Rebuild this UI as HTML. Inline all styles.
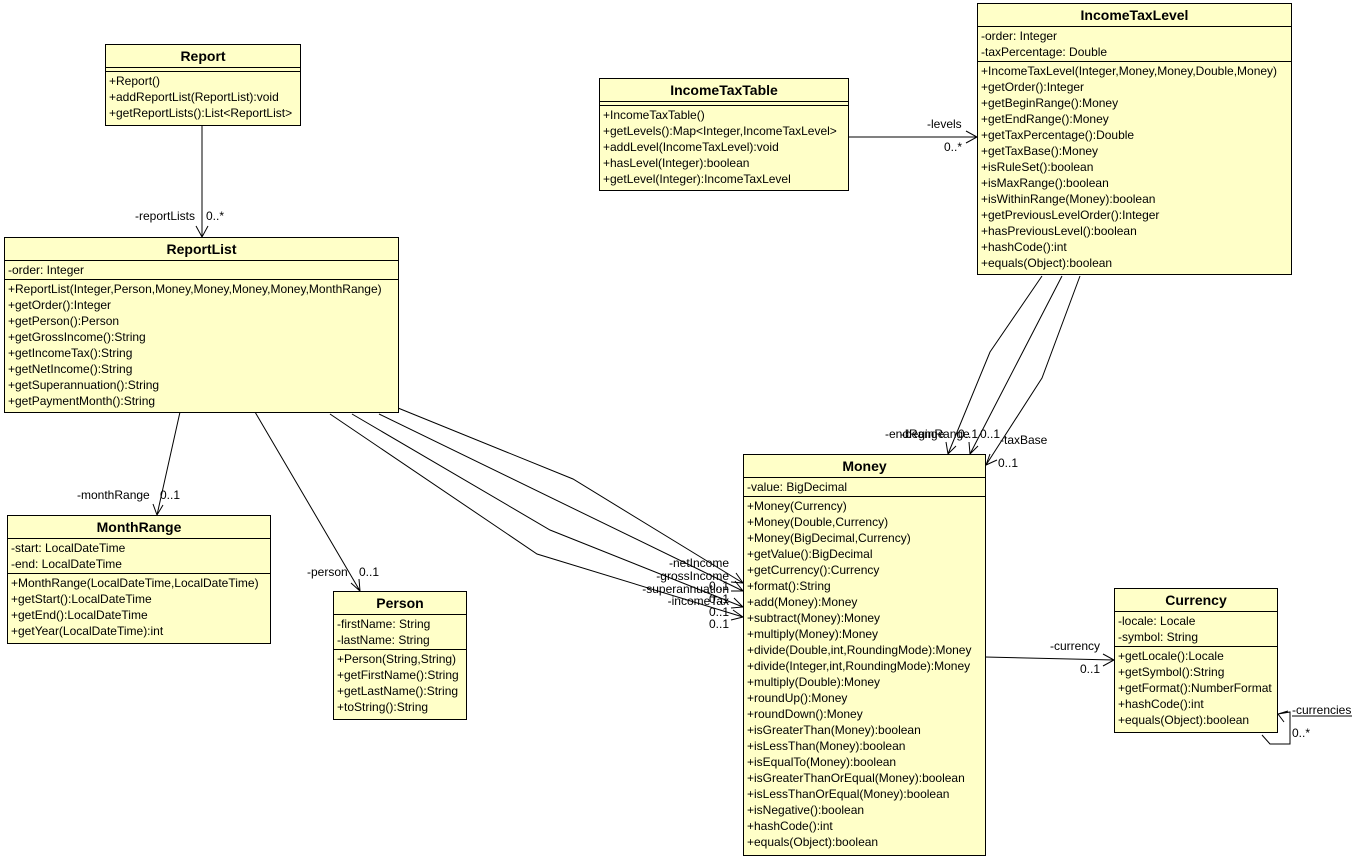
<!DOCTYPE html>
<html><head><meta charset="utf-8"><style>
body{margin:0;width:1355px;height:858px;background:#fff;position:relative;overflow:hidden;font-family:"Liberation Sans",Arial,sans-serif;font-size:12px;color:#000}
.c{position:absolute;background:#ffffc8;border:1px solid #000;box-sizing:border-box}
.t{font-weight:bold;font-size:14px;text-align:center;height:22px;line-height:22px;border-bottom:1px solid #000}
.s{border-bottom:1px solid #000;padding:1px 0 1px 3px;line-height:16px;white-space:nowrap}
.s:last-child{border-bottom:none}
.l{position:absolute;font-size:12px;line-height:14px;white-space:nowrap}
svg{position:absolute;left:0;top:0}
</style></head><body>
<svg width="1355" height="858" fill="none" stroke="#000" stroke-width="1">
<path d="M202 125V237M196 226L202 237L208 226"/>
<path d="M848 137H977M966 131L977 137L966 143"/>
<path d="M180 412L157 515M153 504L157 515L163 505"/>
<path d="M255 412L360 591M351 583L360 591L359 579"/>
<path d="M398 408L573 479L743 583M731 582L743 583L736 573"/>
<path d="M379 414L743 591M731 591L743 591L735 581"/>
<path d="M352 414L550 530L743 607M731 608L743 607L734 598"/>
<path d="M330 414L537 554L743 617M731 620L743 617L733 610"/>
<path d="M1042 276L990 352L948 454M946 442L948 454L956 446"/>
<path d="M1062 276L970 454M969 442L970 454L978 446"/>
<path d="M1080 276L1042 378L986 465M990 454L986 465L997 460"/>
<path d="M985 657L1114 660M1103 654L1114 660L1103 666"/>
<path d="M1262 735L1270 744H1290V712L1278 714M1284 722L1278 714L1288 711"/>
<path d="M1292 716H1352"/>
</svg>

<div class="c" style="left:105px;top:44px;width:196px;height:82px"><div class="t">Report</div><div class="s" style="height:3px;padding:0"></div><div class="s">+Report()<br>+addReportList(ReportList):void<br>+getReportLists():List&lt;ReportList&gt;</div></div>

<div class="c" style="left:4px;top:237px;width:395px;height:176px"><div class="t">ReportList</div><div class="s">-order: Integer</div><div class="s">+ReportList(Integer,Person,Money,Money,Money,Money,MonthRange)<br>+getOrder():Integer<br>+getPerson():Person<br>+getGrossIncome():String<br>+getIncomeTax():String<br>+getNetIncome():String<br>+getSuperannuation():String<br>+getPaymentMonth():String</div></div>

<div class="c" style="left:7px;top:515px;width:264px;height:129px"><div class="t">MonthRange</div><div class="s">-start: LocalDateTime<br>-end: LocalDateTime</div><div class="s">+MonthRange(LocalDateTime,LocalDateTime)<br>+getStart():LocalDateTime<br>+getEnd():LocalDateTime<br>+getYear(LocalDateTime):int</div></div>

<div class="c" style="left:333px;top:591px;width:134px;height:129px"><div class="t">Person</div><div class="s">-firstName: String<br>-lastName: String</div><div class="s">+Person(String,String)<br>+getFirstName():String<br>+getLastName():String<br>+toString():String</div></div>

<div class="c" style="left:599px;top:78px;width:250px;height:113px"><div class="t">IncomeTaxTable</div><div class="s" style="height:3px;padding:0"></div><div class="s">+IncomeTaxTable()<br>+getLevels():Map&lt;Integer,IncomeTaxLevel&gt;<br>+addLevel(IncomeTaxLevel):void<br>+hasLevel(Integer):boolean<br>+getLevel(Integer):IncomeTaxLevel</div></div>

<div class="c" style="left:977px;top:3px;width:315px;height:272px"><div class="t">IncomeTaxLevel</div><div class="s">-order: Integer<br>-taxPercentage: Double</div><div class="s">+IncomeTaxLevel(Integer,Money,Money,Double,Money)<br>+getOrder():Integer<br>+getBeginRange():Money<br>+getEndRange():Money<br>+getTaxPercentage():Double<br>+getTaxBase():Money<br>+isRuleSet():boolean<br>+isMaxRange():boolean<br>+isWithinRange(Money):boolean<br>+getPreviousLevelOrder():Integer<br>+hasPreviousLevel():boolean<br>+hashCode():int<br>+equals(Object):boolean</div></div>

<div class="c" style="left:743px;top:454px;width:243px;height:402px"><div class="t">Money</div><div class="s">-value: BigDecimal</div><div class="s">+Money(Currency)<br>+Money(Double,Currency)<br>+Money(BigDecimal,Currency)<br>+getValue():BigDecimal<br>+getCurrency():Currency<br>+format():String<br>+add(Money):Money<br>+subtract(Money):Money<br>+multiply(Money):Money<br>+divide(Double,int,RoundingMode):Money<br>+divide(Integer,int,RoundingMode):Money<br>+multiply(Double):Money<br>+roundUp():Money<br>+roundDown():Money<br>+isGreaterThan(Money):boolean<br>+isLessThan(Money):boolean<br>+isEqualTo(Money):boolean<br>+isGreaterThanOrEqual(Money):boolean<br>+isLessThanOrEqual(Money):boolean<br>+isNegative():boolean<br>+hashCode():int<br>+equals(Object):boolean</div></div>

<div class="c" style="left:1114px;top:588px;width:164px;height:145px"><div class="t">Currency</div><div class="s">-locale: Locale<br>-symbol: String</div><div class="s">+getLocale():Locale<br>+getSymbol():String<br>+getFormat():NumberFormat<br>+hashCode():int<br>+equals(Object):boolean</div></div>

<div class="l" style="left:135px;top:209px">-reportLists</div>
<div class="l" style="left:206px;top:209px">0..*</div>
<div class="l" style="left:927px;top:117px">-levels</div>
<div class="l" style="left:944px;top:140px">0..*</div>
<div class="l" style="left:77px;top:488px">-monthRange</div>
<div class="l" style="left:160px;top:488px">0..1</div>
<div class="l" style="left:307px;top:565px">-person</div>
<div class="l" style="left:359px;top:565px">0..1</div>
<div class="l" style="right:626px;top:556px">-netIncome</div>
<div class="l" style="right:626px;top:569px">-grossIncome</div>
<div class="l" style="right:626px;top:582px">-superannuation</div>
<div class="l" style="right:626px;top:594px">-incomeTax</div>
<div class="l" style="left:709px;top:579px">0..1</div>
<div class="l" style="left:709px;top:592px">0..1</div>
<div class="l" style="left:709px;top:605px">0..1</div>
<div class="l" style="left:709px;top:617px">0..1</div>
<div class="l" style="left:885px;top:427px">-endRange</div>
<div class="l" style="left:901px;top:427px">-beginRange</div>
<div class="l" style="left:958px;top:427px">0..1</div>
<div class="l" style="left:980px;top:427px">0..1</div>
<div class="l" style="left:1000px;top:433px">-taxBase</div>
<div class="l" style="left:998px;top:456px">0..1</div>
<div class="l" style="left:1050px;top:639px">-currency</div>
<div class="l" style="left:1080px;top:662px">0..1</div>
<div class="l" style="left:1292px;top:703px">-currencies</div>
<div class="l" style="left:1292px;top:726px">0..*</div>
</body></html>
